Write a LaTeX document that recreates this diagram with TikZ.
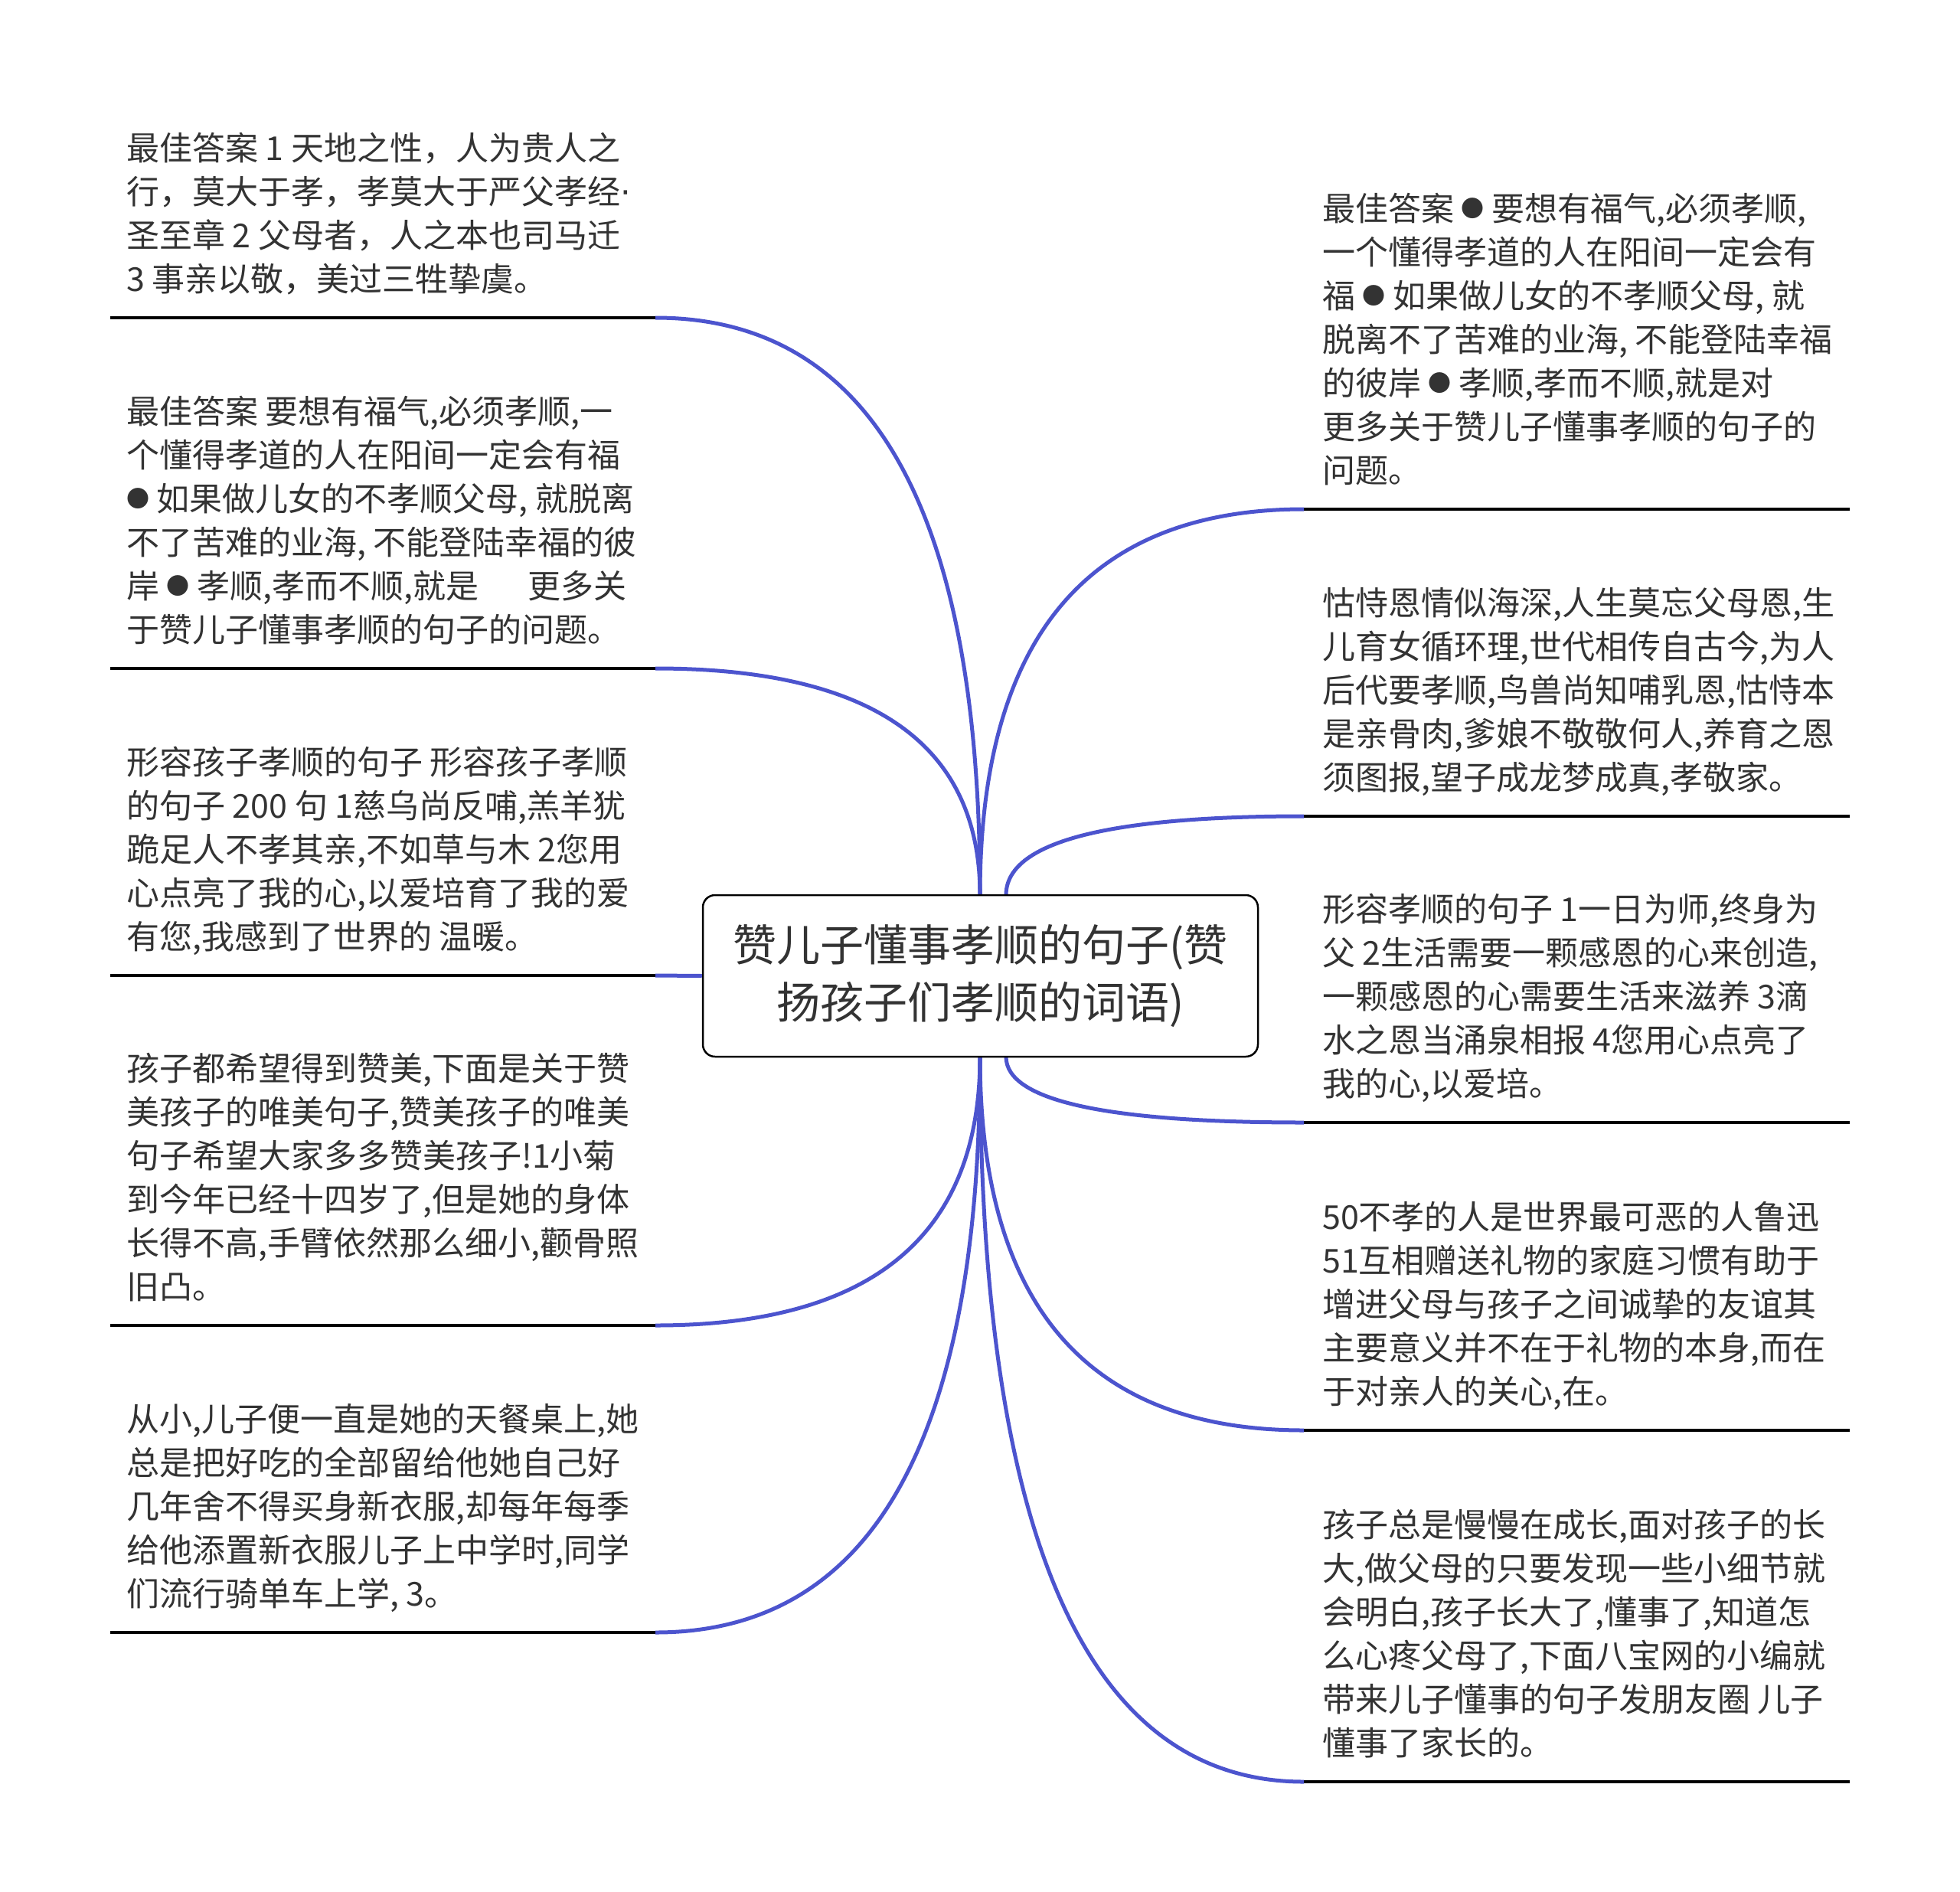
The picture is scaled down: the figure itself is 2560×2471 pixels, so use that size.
\documentclass[tikz,border=0pt]{standalone}
\usepackage{fontspec}
\setmainfont{Noto Sans CJK SC}
\newfontfamily\dotfont{DejaVu Sans}
\usetikzlibrary{calc}
\definecolor{txt}{HTML}{333333}
\definecolor{conn}{RGB}{76,84,206}
\newcommand\bdot{\raisebox{5pt}{\fontsize{30}{30}\selectfont ●}}
\newcommand\mdot{{\dotfont ·}}
\begin{document}
\begin{tikzpicture}[x=1pt,y=-1pt,
  leaf/.style={anchor=base west, align=left, inner sep=0pt, text=txt, font=\fontsize{43}{57}\selectfont},
  uline/.style={line width=4pt, black},
  link/.style={line width=5pt, conn},
  rootbox/.style={draw=black, line width=2.5pt, fill=white, rounded corners=16pt, minimum width=725pt, minimum height=211pt, align=center, text=txt, inner sep=0pt, font=\fontsize{57}{75}\selectfont}]
\useasboundingbox[fill=white] (0,0) rectangle (2560,2471);

% underline end points
\coordinate (l1a) at (144,415);  \coordinate (l1b) at (856,415);
\coordinate (l2a) at (144,873);  \coordinate (l2b) at (856,873);
\coordinate (l3a) at (144,1274); \coordinate (l3b) at (856,1274);
\coordinate (l4a) at (144,1731); \coordinate (l4b) at (856,1731);
\coordinate (l5a) at (144,2132); \coordinate (l5b) at (856,2132);
\coordinate (r1a) at (1703,665);  \coordinate (r1b) at (2416,665);
\coordinate (r2a) at (1703,1066); \coordinate (r2b) at (2416,1066);
\coordinate (r3a) at (1703,1466); \coordinate (r3b) at (2416,1466);
\coordinate (r4a) at (1703,1868); \coordinate (r4b) at (2416,1868);
\coordinate (r5a) at (1703,2327); \coordinate (r5b) at (2416,2327);

\foreach \n in {l1,l2,l3,l4,l5,r1,r2,r3,r4,r5} {\draw[uline] (\n a) -- (\n b);}

\path (1280.5,1274.5) coordinate (rc);
\coordinate (rn) at (1280,1169);
\coordinate (rs) at (1280,1380);
\coordinate (rnr) at (1314,1169);
\coordinate (rsr) at (1314,1380);

% connectors
\foreach \s/\e in {rn/l1b, rn/l2b, rs/l4b, rs/l5b, rn/r1a, rnr/r2a, rsr/r3a, rs/r4a, rs/r5a} {
  \draw[link] (\s) .. controls ($(\s)!0.6667!(\s |- \e)$) and ($(\e)!0.6667!(\s |- \e)$) .. (\e);
}

\node[rootbox] (root) at (rc) {赞儿子懂事孝顺的句子(赞\\扬孩子们孝顺的词语)};
\draw[link] (l3b) -- (root.west);

% left texts (anchor = baseline of last line)
\node[leaf] (l1) at (165,380) {最佳答案 1 天地之性，人为贵人之\\行，莫大于孝，孝莫大于严父孝经\mdot\\圣至章 2 父母者，人之本也司马迁\\3 事亲以敬，美过三牲挚虞。};
\node[leaf] (l2) at (165,838) {最佳答案 要想有福气,必须孝顺,一\\个懂得孝道的人在阳间一定会有福\\\bdot{} 如果做儿女的不孝顺父母, 就脱离\\不了苦难的业海, 不能登陆幸福的彼\\岸 \bdot{} 孝顺,孝而不顺,就是\hspace{1.5em}更多关\\于赞儿子懂事孝顺的句子的问题。};
\node[leaf] (l3) at (165,1239) {形容孩子孝顺的句子 形容孩子孝顺\\的句子 200 句 1慈乌尚反哺,羔羊犹\\跪足人不孝其亲,不如草与木 2您用\\心点亮了我的心,以爱培育了我的爱\\有您,我感到了世界的 温暖。};
\node[leaf] (l4) at (165,1696) {孩子都希望得到赞美,下面是关于赞\\美孩子的唯美句子,赞美孩子的唯美\\句子希望大家多多赞美孩子!1小菊\\到今年已经十四岁了,但是她的身体\\长得不高,手臂依然那么细小,颧骨照\\旧凸。};
\node[leaf] (l5) at (165,2097) {从小,儿子便一直是她的天餐桌上,她\\总是把好吃的全部留给他她自己好\\几年舍不得买身新衣服,却每年每季\\给他添置新衣服儿子上中学时,同学\\们流行骑单车上学, 3。};

% right texts
\node[leaf] (r1) at (1727,630) {最佳答案 \bdot{} 要想有福气,必须孝顺,\\一个懂得孝道的人在阳间一定会有\\福 \bdot{} 如果做儿女的不孝顺父母, 就\\脱离不了苦难的业海, 不能登陆幸福\\的彼岸 \bdot{} 孝顺,孝而不顺,就是对\\更多关于赞儿子懂事孝顺的句子的\\问题。};
\node[leaf] (r2) at (1727,1031) {怙恃恩情似海深,人生莫忘父母恩,生\\儿育女循环理,世代相传自古今,为人\\后代要孝顺,鸟兽尚知哺乳恩,怙恃本\\是亲骨肉,爹娘不敬敬何人,养育之恩\\须图报,望子成龙梦成真,孝敬家。};
\node[leaf] (r3) at (1727,1431) {形容孝顺的句子 1一日为师,终身为\\父 2生活需要一颗感恩的心来创造,\\一颗感恩的心需要生活来滋养 3滴\\水之恩当涌泉相报 4您用心点亮了\\我的心,以爱培。};
\node[leaf] (r4) at (1727,1833) {50不孝的人是世界最可恶的人鲁迅\\51互相赠送礼物的家庭习惯有助于\\增进父母与孩子之间诚挚的友谊其\\主要意义并不在于礼物的本身,而在\\于对亲人的关心,在。};
\node[leaf] (r5) at (1727,2292) {孩子总是慢慢在成长,面对孩子的长\\大,做父母的只要发现一些小细节就\\会明白,孩子长大了,懂事了,知道怎\\么心疼父母了,下面八宝网的小编就\\带来儿子懂事的句子发朋友圈 儿子\\懂事了家长的。};
\end{tikzpicture}
\end{document}
